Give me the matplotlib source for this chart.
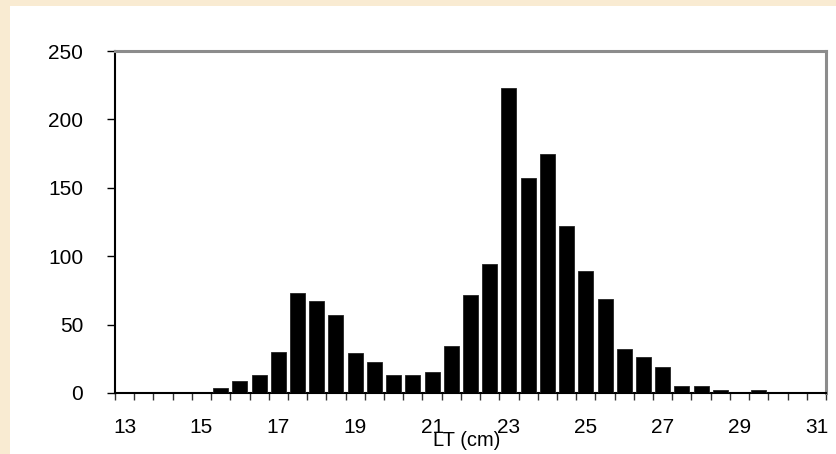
import matplotlib.pyplot as plt
from matplotlib.patches import Rectangle

plt.rcParams['font.family'] = ['Liberation Sans', 'DejaVu Sans']

# length classes (cm), step 0.5
lengths = [13, 13.5, 14, 14.5, 15, 15.5, 16, 16.5, 17, 17.5, 18, 18.5, 19, 19.5,
           20, 20.5, 21, 21.5, 22, 22.5, 23, 23.5, 24, 24.5, 25, 25.5, 26, 26.5,
           27, 27.5, 28, 28.5, 29, 29.5, 30, 30.5, 31]
counts = [0, 0, 0, 0, 0, 4, 9, 13, 30, 73, 67, 57, 29, 23,
          13, 13, 15, 34, 72, 94, 223, 157, 175, 122, 89, 69, 32, 26,
          19, 5, 5, 2, 0, 2, 0, 0, 0]
yticks = [0, 50, 100, 150, 200, 250]
label_every = 4

fig = plt.figure(figsize=(8.36, 4.54), dpi=100, facecolor='#F9EBD2')
# white chart panel over the parchment background
panel = Rectangle((10 / 836, 0), 1, 448 / 454, transform=fig.transFigure,
                  facecolor='white', edgecolor='none', zorder=-5)
fig.add_artist(panel)

ax = fig.add_axes([115 / 836, 61 / 454, 711 / 836, 342 / 454])
ax.set_zorder(1)
ax.set_facecolor('white')

pos = list(range(len(lengths)))
ax.bar(pos, counts, width=0.78, color='black', edgecolor='#222222', linewidth=0.6, zorder=3)

ax.set_xlim(-0.5, len(lengths) - 0.5)
ax.set_ylim(0, 250)

# category boundary ticks, labels at every 4th class centre
ax.set_xticks([p - 0.5 for p in range(len(lengths) + 1)])
ax.set_xticklabels([])
ax.tick_params(axis='x', which='major', direction='out', length=5, width=1, color='#333333')
ax.set_xticks(pos[::label_every], minor=True)
ax.set_xticklabels([f'{v:g}' for v in lengths[::label_every]], minor=True)
ax.tick_params(axis='x', which='minor', length=0, pad=18, labelsize=15)

ax.set_yticks(yticks)
ax.set_yticklabels([str(v) for v in yticks])
ax.tick_params(axis='y', direction='out', length=6, width=1, pad=17, labelsize=15)

for s in ['left', 'bottom']:
    ax.spines[s].set_color('black')
    ax.spines[s].set_linewidth(1.5)
for s in ['top', 'right']:
    ax.spines[s].set_color('#8C8C8C')
    ax.spines[s].set_linewidth(2.2)

ax.set_xlabel('LT (cm)', fontsize=14.5, va='center')
ax.xaxis.set_label_coords(0.494, -0.14)

fig.savefig('out.png', dpi=100, facecolor=fig.get_facecolor())
